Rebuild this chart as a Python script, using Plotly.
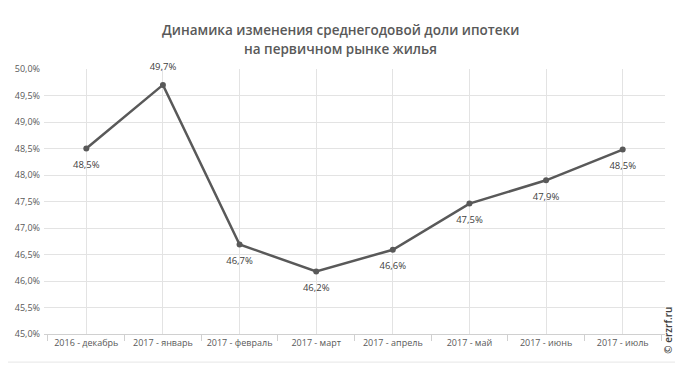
import plotly.graph_objects as go

categories = ["2016 - декабрь", "2017 - январь", "2017 - февраль", "2017 - март",
              "2017 - апрель", "2017 - май", "2017 - июнь", "2017 - июль"]
values = [48.50, 49.70, 46.69, 46.18, 46.59, 47.46, 47.90, 48.48]
label_pos = ["bottom center", "top center", "bottom center", "bottom center",
             "bottom center", "bottom center", "bottom center", "bottom center"]
title_lines = ["Динамика изменения среднегодовой доли ипотеки", "на первичном рынке жилья"]

fig = go.Figure()
fig.add_trace(go.Scatter(
    x=categories, y=values, mode="lines+markers",
    line=dict(color="#595959", width=2.5),
    marker=dict(color="#595959", size=6),
    hoverinfo="skip", showlegend=False,
))
# data labels (invisible larger marker gives the label offset)
fig.add_trace(go.Scatter(
    x=categories, y=values, mode="markers+text",
    marker=dict(size=18, opacity=0),
    texttemplate="%{y:.1f}%", textposition=label_pos,
    textfont=dict(family="Open Sans", size=9.5, color="#404040"),
    cliponaxis=False, hoverinfo="skip", showlegend=False,
))
# invisible helper trace for boundary tick marks
fig.add_trace(go.Scatter(
    x=categories, y=values, xaxis="x2", mode="markers",
    marker=dict(opacity=0), hoverinfo="skip", showlegend=False,
))

title_font = dict(family="Open Sans", size=13.5, color="#595959", weight=600)

fig.update_layout(
    width=675, height=359,
    margin=dict(l=36, r=18, t=61, b=33),
    paper_bgcolor="white", plot_bgcolor="white",
    separators=", ",
    xaxis=dict(type="category", showgrid=True, gridcolor="#e3e3e3", gridwidth=1,
               ticks="", showline=True, linecolor="#d0d0d0", linewidth=1,
               tickfont=dict(family="Open Sans", size=9, color="#595959"),
               zeroline=False, fixedrange=True, automargin=False),
    xaxis2=dict(type="category", overlaying="x", matches="x", side="bottom",
                tickson="boundaries", ticks="outside", ticklen=6, tickcolor="#d0d0d0",
                showticklabels=False, showgrid=False, showline=False, zeroline=False,
                automargin=False),
    yaxis=dict(range=[45, 50], dtick=0.5, tickformat=".1f", ticksuffix="%",
               showgrid=True, gridcolor="#e3e3e3", gridwidth=1, zeroline=False,
               showline=False, ticks="", ticklabelstandoff=3, automargin=False,
               tickfont=dict(family="Open Sans", size=9, color="#595959")),
    annotations=[
        dict(text=title_lines[0], xref="paper", yref="paper", x=0.478, y=1.147,
             xanchor="center", yanchor="middle", showarrow=False, font=title_font),
        dict(text=title_lines[1], xref="paper", yref="paper", x=0.478, y=1.075,
             xanchor="center", yanchor="middle", showarrow=False, font=title_font),
        dict(text="© erzrf.ru", xref="paper", yref="paper", x=1.0048, y=-0.08,
             xanchor="center", yanchor="bottom", textangle=-90, showarrow=False,
             font=dict(family="Open Sans", size=10, color="#404040", weight=600)),
    ],
    shapes=[
        dict(type="line", xref="paper", yref="paper", x0=-0.066, x1=1.018,
             y0=-0.106, y1=-0.106, line=dict(color="#e6e6e6", width=1)),
        dict(type="line", xref="paper", yref="paper", x0=1.018, x1=1.018,
             y0=-0.106, y1=1.22, line=dict(color="#e6e6e6", width=1)),
    ],
)

fig.write_html("out.html")
